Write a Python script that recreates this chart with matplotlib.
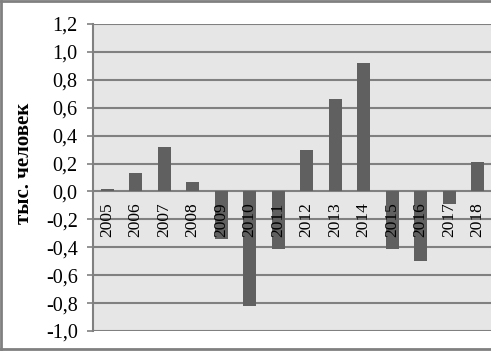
import matplotlib.pyplot as plt
from matplotlib.lines import Line2D

years = ['2005', '2006', '2007', '2008', '2009', '2010', '2011',
         '2012', '2013', '2014', '2015', '2016', '2017', '2018']
values = [0.02, 0.13, 0.32, 0.07, -0.34, -0.82, -0.41,
          0.30, 0.66, 0.92, -0.41, -0.50, -0.09, 0.21]
yticks = [-1.0, -0.8, -0.6, -0.4, -0.2, 0.0, 0.2, 0.4, 0.6, 0.8, 1.0, 1.2]

plt.rcParams['font.family'] = 'Liberation Serif'

fig = plt.figure(figsize=(4.91, 3.51), dpi=100)
ax = fig.add_axes([93 / 491, 1 - 331 / 351, 1 - 93 / 491 + 0.002, 307 / 351])
ax.set_facecolor('#e6e6e6')

x = range(len(years))
ax.bar(x, values, width=0.45, color='#606060', zorder=3)

# year labels sit just under the zero line, on top of the bars
for i, yr in enumerate(years):
    ax.annotate(yr, (i, 0), xytext=(0, -8), textcoords='offset points',
                rotation=90, ha='center', va='top', fontsize=12.5, zorder=5)

ax.set_xlim(-0.5, len(years) - 0.5)
ax.set_ylim(-1.0, 1.2)
ax.set_yticks(yticks)
ax.set_yticklabels([f'{v:.1f}'.replace('.', ',') for v in yticks], fontsize=14.5)
ax.set_xticks([])
ax.yaxis.grid(True, color='#808080', linewidth=1.5, zorder=1)
ax.set_axisbelow(True)
ax.tick_params(axis='y', length=4, width=1.2, color='#808080', pad=7)

for side in ['top', 'right', 'bottom']:
    ax.spines[side].set_visible(False)
ax.spines['left'].set_color('#808080')
ax.spines['left'].set_linewidth(1.5)

fig.text(24 / 491, 1 - 163 / 351, 'тыс. человек', rotation=90, ha='center',
         va='center', fontsize=15, fontweight='bold')

# outer frame of the chart
for xs, ys in [([0.002, 1], [0.997, 0.997]), ([0.002, 1], [0.005, 0.005]),
               ([0.003, 0.003], [0.005, 0.997])]:
    fig.add_artist(Line2D(xs, ys, color='#808080', linewidth=2,
                          transform=fig.transFigure))

fig.savefig('out.png', dpi=100)
